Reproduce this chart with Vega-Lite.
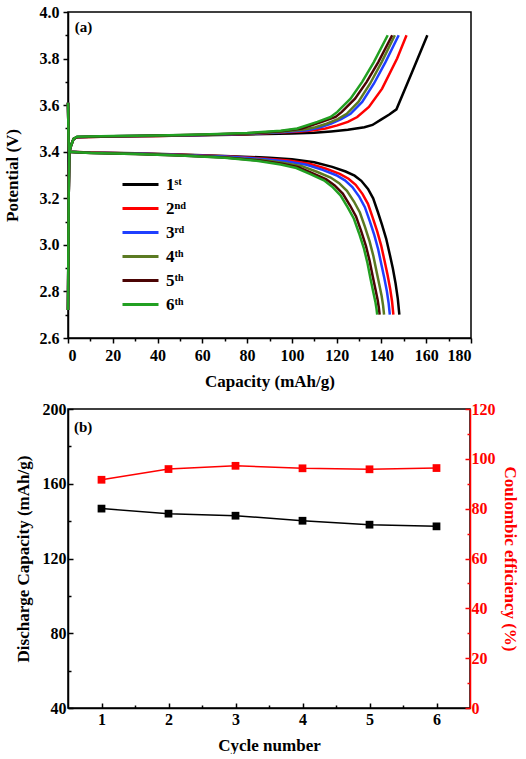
{
"$schema":"https://vega.github.io/schema/vega-lite/v6.json",
"padding":{"left":2,"top":3,"right":0,"bottom":0},
"spacing":10,
"config":{
 "font":"Liberation Serif",
 "view":{"stroke":"black","strokeWidth":1.5},
 "axis":{"grid":false,"domainColor":"black","domainWidth":1.5,"tickColor":"black","tickWidth":1.5,"labelFont":"Liberation Serif","labelFontWeight":"bold","labelFontSize":16,"labelColor":"black","titleFont":"Liberation Serif","titleFontWeight":"bold","titleFontSize":17,"titleColor":"black"}
},
"datasets":{
"cyc":[
{"n":1,"cap":146.7,"ce":91.6},{"n":2,"cap":144.0,"ce":95.9},{"n":3,"cap":142.9,"ce":97.2},{"n":4,"cap":140.2,"ce":96.2},{"n":5,"cap":138.1,"ce":95.8},{"n":6,"cap":137.2,"ce":96.3}
],
"curves":[
{"c":"1\u02e2\u1d57","s":"c","x":0,"y":2.72},{"c":"1\u02e2\u1d57","s":"c","x":0.3,"y":3.2},{"c":"1\u02e2\u1d57","s":"c","x":0.6,"y":3.4},{"c":"1\u02e2\u1d57","s":"c","x":1.5,"y":3.43},{"c":"1\u02e2\u1d57","s":"c","x":2.5,"y":3.455},{"c":"1\u02e2\u1d57","s":"c","x":4,"y":3.462},{"c":"1\u02e2\u1d57","s":"c","x":20,"y":3.465},{"c":"1\u02e2\u1d57","s":"c","x":40,"y":3.468},{"c":"1\u02e2\u1d57","s":"c","x":60,"y":3.471},{"c":"1\u02e2\u1d57","s":"c","x":80,"y":3.474},{"c":"1\u02e2\u1d57","s":"c","x":100,"y":3.478},{"c":"1\u02e2\u1d57","s":"c","x":110,"y":3.481},{"c":"1\u02e2\u1d57","s":"c","x":117.5,"y":3.487},{"c":"1\u02e2\u1d57","s":"c","x":125,"y":3.494},{"c":"1\u02e2\u1d57","s":"c","x":132.4,"y":3.505},{"c":"1\u02e2\u1d57","s":"c","x":136,"y":3.515},{"c":"1\u02e2\u1d57","s":"c","x":139.8,"y":3.538},{"c":"1\u02e2\u1d57","s":"c","x":143.5,"y":3.56},{"c":"1\u02e2\u1d57","s":"c","x":146.7,"y":3.582},{"c":"1\u02e2\u1d57","s":"c","x":153.7,"y":3.742},{"c":"1\u02e2\u1d57","s":"c","x":160.5,"y":3.9},
{"c":"1\u02e2\u1d57","s":"d","x":0,"y":3.61},{"c":"1\u02e2\u1d57","s":"d","x":0.25,"y":3.45},{"c":"1\u02e2\u1d57","s":"d","x":0.5,"y":3.4},{"c":"1\u02e2\u1d57","s":"d","x":10,"y":3.397},{"c":"1\u02e2\u1d57","s":"d","x":30,"y":3.393},{"c":"1\u02e2\u1d57","s":"d","x":50,"y":3.388},{"c":"1\u02e2\u1d57","s":"d","x":70,"y":3.382},{"c":"1\u02e2\u1d57","s":"d","x":90,"y":3.374},{"c":"1\u02e2\u1d57","s":"d","x":100,"y":3.368},{"c":"1\u02e2\u1d57","s":"d","x":110,"y":3.355},{"c":"1\u02e2\u1d57","s":"d","x":118,"y":3.335},{"c":"1\u02e2\u1d57","s":"d","x":124,"y":3.315},{"c":"1\u02e2\u1d57","s":"d","x":128,"y":3.297},{"c":"1\u02e2\u1d57","s":"d","x":131,"y":3.275},{"c":"1\u02e2\u1d57","s":"d","x":134,"y":3.24},{"c":"1\u02e2\u1d57","s":"d","x":136.3,"y":3.2},{"c":"1\u02e2\u1d57","s":"d","x":138.4,"y":3.141},{"c":"1\u02e2\u1d57","s":"d","x":140.3,"y":3.085},{"c":"1\u02e2\u1d57","s":"d","x":142.1,"y":3.027},{"c":"1\u02e2\u1d57","s":"d","x":143.7,"y":2.96},{"c":"1\u02e2\u1d57","s":"d","x":145.1,"y":2.898},{"c":"1\u02e2\u1d57","s":"d","x":146.3,"y":2.835},{"c":"1\u02e2\u1d57","s":"d","x":147.3,"y":2.769},{"c":"1\u02e2\u1d57","s":"d","x":148,"y":2.7},
{"c":"2\u207f\u1d48","s":"c","x":0,"y":2.72},{"c":"2\u207f\u1d48","s":"c","x":0.3,"y":3.2},{"c":"2\u207f\u1d48","s":"c","x":0.6,"y":3.4},{"c":"2\u207f\u1d48","s":"c","x":1.5,"y":3.43},{"c":"2\u207f\u1d48","s":"c","x":2.5,"y":3.455},{"c":"2\u207f\u1d48","s":"c","x":4,"y":3.462},{"c":"2\u207f\u1d48","s":"c","x":20,"y":3.465},{"c":"2\u207f\u1d48","s":"c","x":40,"y":3.468},{"c":"2\u207f\u1d48","s":"c","x":60,"y":3.472},{"c":"2\u207f\u1d48","s":"c","x":80,"y":3.476},{"c":"2\u207f\u1d48","s":"c","x":95,"y":3.482},{"c":"2\u207f\u1d48","s":"c","x":104,"y":3.487},{"c":"2\u207f\u1d48","s":"c","x":109.9,"y":3.492},{"c":"2\u207f\u1d48","s":"c","x":115,"y":3.5},{"c":"2\u207f\u1d48","s":"c","x":120.3,"y":3.513},{"c":"2\u207f\u1d48","s":"c","x":125,"y":3.528},{"c":"2\u207f\u1d48","s":"c","x":129.2,"y":3.549},{"c":"2\u207f\u1d48","s":"c","x":134.4,"y":3.592},{"c":"2\u207f\u1d48","s":"c","x":140.3,"y":3.671},{"c":"2\u207f\u1d48","s":"c","x":147,"y":3.8},{"c":"2\u207f\u1d48","s":"c","x":151.2,"y":3.9},
{"c":"2\u207f\u1d48","s":"d","x":0,"y":3.61},{"c":"2\u207f\u1d48","s":"d","x":0.25,"y":3.45},{"c":"2\u207f\u1d48","s":"d","x":0.5,"y":3.4},{"c":"2\u207f\u1d48","s":"d","x":10,"y":3.3965},{"c":"2\u207f\u1d48","s":"d","x":30,"y":3.392},{"c":"2\u207f\u1d48","s":"d","x":50,"y":3.387},{"c":"2\u207f\u1d48","s":"d","x":70,"y":3.38},{"c":"2\u207f\u1d48","s":"d","x":88.65,"y":3.37},{"c":"2\u207f\u1d48","s":"d","x":98.65,"y":3.362},{"c":"2\u207f\u1d48","s":"d","x":107.84,"y":3.348},{"c":"2\u207f\u1d48","s":"d","x":115.3,"y":3.327},{"c":"2\u207f\u1d48","s":"d","x":121.38,"y":3.305},{"c":"2\u207f\u1d48","s":"d","x":125.3,"y":3.284},{"c":"2\u207f\u1d48","s":"d","x":128.49,"y":3.258},{"c":"2\u207f\u1d48","s":"d","x":131.57,"y":3.218},{"c":"2\u207f\u1d48","s":"d","x":133.98,"y":3.176},{"c":"2\u207f\u1d48","s":"d","x":136.13,"y":3.116},{"c":"2\u207f\u1d48","s":"d","x":138.11,"y":3.058},{"c":"2\u207f\u1d48","s":"d","x":139.86,"y":2.998},{"c":"2\u207f\u1d48","s":"d","x":141.38,"y":2.932},{"c":"2\u207f\u1d48","s":"d","x":142.72,"y":2.872},{"c":"2\u207f\u1d48","s":"d","x":143.87,"y":2.813},{"c":"2\u207f\u1d48","s":"d","x":144.74,"y":2.757},{"c":"2\u207f\u1d48","s":"d","x":145.33,"y":2.7},
{"c":"3\u02b3\u1d48","s":"c","x":0,"y":2.72},{"c":"3\u02b3\u1d48","s":"c","x":0.3,"y":3.2},{"c":"3\u02b3\u1d48","s":"c","x":0.6,"y":3.4},{"c":"3\u02b3\u1d48","s":"c","x":1.5,"y":3.43},{"c":"3\u02b3\u1d48","s":"c","x":2.5,"y":3.455},{"c":"3\u02b3\u1d48","s":"c","x":4,"y":3.463},{"c":"3\u02b3\u1d48","s":"c","x":20,"y":3.466},{"c":"3\u02b3\u1d48","s":"c","x":40,"y":3.469},{"c":"3\u02b3\u1d48","s":"c","x":60,"y":3.472},{"c":"3\u02b3\u1d48","s":"c","x":80,"y":3.477},{"c":"3\u02b3\u1d48","s":"c","x":95,"y":3.484},{"c":"3\u02b3\u1d48","s":"c","x":106.9,"y":3.492},{"c":"3\u02b3\u1d48","s":"c","x":112,"y":3.503},{"c":"3\u02b3\u1d48","s":"c","x":117.3,"y":3.52},{"c":"3\u02b3\u1d48","s":"c","x":122,"y":3.54},{"c":"3\u02b3\u1d48","s":"c","x":126.2,"y":3.563},{"c":"3\u02b3\u1d48","s":"c","x":131.4,"y":3.614},{"c":"3\u02b3\u1d48","s":"c","x":136.6,"y":3.692},{"c":"3\u02b3\u1d48","s":"c","x":141.8,"y":3.785},{"c":"3\u02b3\u1d48","s":"c","x":147.7,"y":3.9},
{"c":"3\u02b3\u1d48","s":"d","x":0,"y":3.61},{"c":"3\u02b3\u1d48","s":"d","x":0.25,"y":3.45},{"c":"3\u02b3\u1d48","s":"d","x":0.5,"y":3.4},{"c":"3\u02b3\u1d48","s":"d","x":10,"y":3.396},{"c":"3\u02b3\u1d48","s":"d","x":30,"y":3.392},{"c":"3\u02b3\u1d48","s":"d","x":50,"y":3.386},{"c":"3\u02b3\u1d48","s":"d","x":70,"y":3.379},{"c":"3\u02b3\u1d48","s":"d","x":87.85,"y":3.368},{"c":"3\u02b3\u1d48","s":"d","x":97.85,"y":3.358},{"c":"3\u02b3\u1d48","s":"d","x":106.56,"y":3.344},{"c":"3\u02b3\u1d48","s":"d","x":113.7,"y":3.322},{"c":"3\u02b3\u1d48","s":"d","x":119.83,"y":3.299},{"c":"3\u02b3\u1d48","s":"d","x":123.7,"y":3.277},{"c":"3\u02b3\u1d48","s":"d","x":127,"y":3.248},{"c":"3\u02b3\u1d48","s":"d","x":130.13,"y":3.206},{"c":"3\u02b3\u1d48","s":"d","x":132.6,"y":3.162},{"c":"3\u02b3\u1d48","s":"d","x":134.79,"y":3.102},{"c":"3\u02b3\u1d48","s":"d","x":136.82,"y":3.042},{"c":"3\u02b3\u1d48","s":"d","x":138.53,"y":2.981},{"c":"3\u02b3\u1d48","s":"d","x":140,"y":2.915},{"c":"3\u02b3\u1d48","s":"d","x":141.32,"y":2.856},{"c":"3\u02b3\u1d48","s":"d","x":142.43,"y":2.801},{"c":"3\u02b3\u1d48","s":"d","x":143.21,"y":2.75},{"c":"3\u02b3\u1d48","s":"d","x":143.74,"y":2.7},
{"c":"4\u1d57\u02b0","s":"c","x":0,"y":2.72},{"c":"4\u1d57\u02b0","s":"c","x":0.3,"y":3.2},{"c":"4\u1d57\u02b0","s":"c","x":0.6,"y":3.4},{"c":"4\u1d57\u02b0","s":"c","x":1.5,"y":3.43},{"c":"4\u1d57\u02b0","s":"c","x":2.5,"y":3.455},{"c":"4\u1d57\u02b0","s":"c","x":4,"y":3.463},{"c":"4\u1d57\u02b0","s":"c","x":20,"y":3.466},{"c":"4\u1d57\u02b0","s":"c","x":40,"y":3.469},{"c":"4\u1d57\u02b0","s":"c","x":60,"y":3.473},{"c":"4\u1d57\u02b0","s":"c","x":80,"y":3.478},{"c":"4\u1d57\u02b0","s":"c","x":95,"y":3.486},{"c":"4\u1d57\u02b0","s":"c","x":105.5,"y":3.495},{"c":"4\u1d57\u02b0","s":"c","x":110.5,"y":3.505},{"c":"4\u1d57\u02b0","s":"c","x":115.5,"y":3.52},{"c":"4\u1d57\u02b0","s":"c","x":120.5,"y":3.54},{"c":"4\u1d57\u02b0","s":"c","x":124.5,"y":3.563},{"c":"4\u1d57\u02b0","s":"c","x":129.7,"y":3.614},{"c":"4\u1d57\u02b0","s":"c","x":134.9,"y":3.692},{"c":"4\u1d57\u02b0","s":"c","x":140.1,"y":3.785},{"c":"4\u1d57\u02b0","s":"c","x":146,"y":3.9},
{"c":"4\u1d57\u02b0","s":"d","x":0,"y":3.61},{"c":"4\u1d57\u02b0","s":"d","x":0.25,"y":3.45},{"c":"4\u1d57\u02b0","s":"d","x":0.5,"y":3.4},{"c":"4\u1d57\u02b0","s":"d","x":10,"y":3.396},{"c":"4\u1d57\u02b0","s":"d","x":30,"y":3.391},{"c":"4\u1d57\u02b0","s":"d","x":50,"y":3.385},{"c":"4\u1d57\u02b0","s":"d","x":70,"y":3.376},{"c":"4\u1d57\u02b0","s":"d","x":86.55,"y":3.364},{"c":"4\u1d57\u02b0","s":"d","x":96.55,"y":3.352},{"c":"4\u1d57\u02b0","s":"d","x":104.48,"y":3.338},{"c":"4\u1d57\u02b0","s":"d","x":111.1,"y":3.314},{"c":"4\u1d57\u02b0","s":"d","x":117.31,"y":3.289},{"c":"4\u1d57\u02b0","s":"d","x":121.1,"y":3.265},{"c":"4\u1d57\u02b0","s":"d","x":124.58,"y":3.232},{"c":"4\u1d57\u02b0","s":"d","x":127.79,"y":3.185},{"c":"4\u1d57\u02b0","s":"d","x":130.37,"y":3.139},{"c":"4\u1d57\u02b0","s":"d","x":132.6,"y":3.078},{"c":"4\u1d57\u02b0","s":"d","x":134.71,"y":3.015},{"c":"4\u1d57\u02b0","s":"d","x":136.37,"y":2.953},{"c":"4\u1d57\u02b0","s":"d","x":137.77,"y":2.888},{"c":"4\u1d57\u02b0","s":"d","x":139.03,"y":2.83},{"c":"4\u1d57\u02b0","s":"d","x":140.09,"y":2.78},{"c":"4\u1d57\u02b0","s":"d","x":140.74,"y":2.739},{"c":"4\u1d57\u02b0","s":"d","x":141.17,"y":2.7},
{"c":"5\u1d57\u02b0","s":"c","x":0,"y":2.72},{"c":"5\u1d57\u02b0","s":"c","x":0.3,"y":3.2},{"c":"5\u1d57\u02b0","s":"c","x":0.6,"y":3.4},{"c":"5\u1d57\u02b0","s":"c","x":1.5,"y":3.43},{"c":"5\u1d57\u02b0","s":"c","x":2.5,"y":3.455},{"c":"5\u1d57\u02b0","s":"c","x":4,"y":3.463},{"c":"5\u1d57\u02b0","s":"c","x":20,"y":3.466},{"c":"5\u1d57\u02b0","s":"c","x":40,"y":3.47},{"c":"5\u1d57\u02b0","s":"c","x":60,"y":3.473},{"c":"5\u1d57\u02b0","s":"c","x":80,"y":3.479},{"c":"5\u1d57\u02b0","s":"c","x":95,"y":3.488},{"c":"5\u1d57\u02b0","s":"c","x":104.4,"y":3.5},{"c":"5\u1d57\u02b0","s":"c","x":113.4,"y":3.528},{"c":"5\u1d57\u02b0","s":"c","x":119.5,"y":3.549},{"c":"5\u1d57\u02b0","s":"c","x":122.3,"y":3.571},{"c":"5\u1d57\u02b0","s":"c","x":128.2,"y":3.628},{"c":"5\u1d57\u02b0","s":"c","x":133.4,"y":3.7},{"c":"5\u1d57\u02b0","s":"c","x":138.6,"y":3.785},{"c":"5\u1d57\u02b0","s":"c","x":144.8,"y":3.9},
{"c":"5\u1d57\u02b0","s":"d","x":0,"y":3.61},{"c":"5\u1d57\u02b0","s":"d","x":0.25,"y":3.45},{"c":"5\u1d57\u02b0","s":"d","x":0.5,"y":3.4},{"c":"5\u1d57\u02b0","s":"d","x":10,"y":3.395},{"c":"5\u1d57\u02b0","s":"d","x":30,"y":3.39},{"c":"5\u1d57\u02b0","s":"d","x":50,"y":3.384},{"c":"5\u1d57\u02b0","s":"d","x":70,"y":3.375},{"c":"5\u1d57\u02b0","s":"d","x":85.55,"y":3.362},{"c":"5\u1d57\u02b0","s":"d","x":95.55,"y":3.348},{"c":"5\u1d57\u02b0","s":"d","x":102.88,"y":3.333},{"c":"5\u1d57\u02b0","s":"d","x":109.1,"y":3.308},{"c":"5\u1d57\u02b0","s":"d","x":115.37,"y":3.281},{"c":"5\u1d57\u02b0","s":"d","x":119.1,"y":3.255},{"c":"5\u1d57\u02b0","s":"d","x":122.72,"y":3.22},{"c":"5\u1d57\u02b0","s":"d","x":125.99,"y":3.169},{"c":"5\u1d57\u02b0","s":"d","x":128.65,"y":3.122},{"c":"5\u1d57\u02b0","s":"d","x":130.92,"y":3.06},{"c":"5\u1d57\u02b0","s":"d","x":133.09,"y":2.995},{"c":"5\u1d57\u02b0","s":"d","x":134.71,"y":2.932},{"c":"5\u1d57\u02b0","s":"d","x":136.05,"y":2.867},{"c":"5\u1d57\u02b0","s":"d","x":137.27,"y":2.811},{"c":"5\u1d57\u02b0","s":"d","x":138.29,"y":2.764},{"c":"5\u1d57\u02b0","s":"d","x":138.84,"y":2.73},{"c":"5\u1d57\u02b0","s":"d","x":139.19,"y":2.7},
{"c":"6\u1d57\u02b0","s":"c","x":0,"y":2.72},{"c":"6\u1d57\u02b0","s":"c","x":0.3,"y":3.2},{"c":"6\u1d57\u02b0","s":"c","x":0.6,"y":3.4},{"c":"6\u1d57\u02b0","s":"c","x":1.5,"y":3.43},{"c":"6\u1d57\u02b0","s":"c","x":2.5,"y":3.455},{"c":"6\u1d57\u02b0","s":"c","x":4,"y":3.464},{"c":"6\u1d57\u02b0","s":"c","x":20,"y":3.467},{"c":"6\u1d57\u02b0","s":"c","x":40,"y":3.47},{"c":"6\u1d57\u02b0","s":"c","x":60,"y":3.474},{"c":"6\u1d57\u02b0","s":"c","x":80,"y":3.48},{"c":"6\u1d57\u02b0","s":"c","x":95,"y":3.49},{"c":"6\u1d57\u02b0","s":"c","x":102.4,"y":3.5},{"c":"6\u1d57\u02b0","s":"c","x":111.4,"y":3.528},{"c":"6\u1d57\u02b0","s":"c","x":117.3,"y":3.549},{"c":"6\u1d57\u02b0","s":"c","x":120.3,"y":3.571},{"c":"6\u1d57\u02b0","s":"c","x":126.2,"y":3.628},{"c":"6\u1d57\u02b0","s":"c","x":131.4,"y":3.7},{"c":"6\u1d57\u02b0","s":"c","x":136.6,"y":3.785},{"c":"6\u1d57\u02b0","s":"c","x":142.8,"y":3.9},
{"c":"6\u1d57\u02b0","s":"d","x":0,"y":3.61},{"c":"6\u1d57\u02b0","s":"d","x":0.25,"y":3.45},{"c":"6\u1d57\u02b0","s":"d","x":0.5,"y":3.4},{"c":"6\u1d57\u02b0","s":"d","x":10,"y":3.395},{"c":"6\u1d57\u02b0","s":"d","x":30,"y":3.39},{"c":"6\u1d57\u02b0","s":"d","x":50,"y":3.384},{"c":"6\u1d57\u02b0","s":"d","x":70,"y":3.374},{"c":"6\u1d57\u02b0","s":"d","x":85,"y":3.36},{"c":"6\u1d57\u02b0","s":"d","x":95,"y":3.345},{"c":"6\u1d57\u02b0","s":"d","x":102,"y":3.33},{"c":"6\u1d57\u02b0","s":"d","x":108,"y":3.305},{"c":"6\u1d57\u02b0","s":"d","x":114.3,"y":3.277},{"c":"6\u1d57\u02b0","s":"d","x":118,"y":3.25},{"c":"6\u1d57\u02b0","s":"d","x":121.7,"y":3.213},{"c":"6\u1d57\u02b0","s":"d","x":125,"y":3.16},{"c":"6\u1d57\u02b0","s":"d","x":127.7,"y":3.112},{"c":"6\u1d57\u02b0","s":"d","x":130,"y":3.05},{"c":"6\u1d57\u02b0","s":"d","x":132.2,"y":2.984},{"c":"6\u1d57\u02b0","s":"d","x":133.8,"y":2.92},{"c":"6\u1d57\u02b0","s":"d","x":135.1,"y":2.855},{"c":"6\u1d57\u02b0","s":"d","x":136.3,"y":2.8},{"c":"6\u1d57\u02b0","s":"d","x":137.3,"y":2.755},{"c":"6\u1d57\u02b0","s":"d","x":137.8,"y":2.725},{"c":"6\u1d57\u02b0","s":"d","x":138.1,"y":2.7}
]
},
"vconcat":[
{
 "width":403,"height":326,
 "layer":[
  {"data":{"name":"curves"},
   "mark":{"type":"line","strokeWidth":2.5},
   "encoding":{
    "x":{"field":"x","type":"quantitative","scale":{"domain":[0,180],"nice":false},"axis":{"values":[0,20,40,60,80,100,120,140,160,180],"tickSize":5,"labelPadding":4,"title":"Capacity (mAh/g)","titlePadding":10}},
    "y":{"field":"y","type":"quantitative","scale":{"domain":[2.6,4.0],"nice":false,"zero":false},"axis":{"values":[2.6,2.8,3.0,3.2,3.4,3.6,3.8,4.0],"format":".1f","tickSize":5,"labelPadding":4,"title":"Potential (V)","titlePadding":18}},
    "color":{"field":"c","type":"nominal","scale":{"domain":["1\u02e2\u1d57","2\u207f\u1d48","3\u02b3\u1d48","4\u1d57\u02b0","5\u1d57\u02b0","6\u1d57\u02b0"],"range":["#000000","#ff0000","#1f3fff","#5b7a22","#4b0404","#22a022"]},
     "legend":{"title":null,"orient":"none","legendX":64,"legendY":164,"padding":0,"symbolType":"M-3,0H3","symbolSize":144,"symbolStrokeWidth":3,"labelOffset":17,"labelFont":"Liberation Serif","labelFontWeight":"bold","labelFontSize":17,"labelColor":"black","rowPadding":6}},
    "detail":{"field":"s"}
   }},
  {"data":{"values":[{"x":3,"y":3.936,"t":"(a)"}]},
   "mark":{"type":"text","align":"left","baseline":"middle","fontSize":15,"font":"Liberation Serif","fontWeight":"bold","color":"black"},
   "encoding":{
    "x":{"field":"x","type":"quantitative","axis":{"orient":"bottom","values":[10,30,50,70,90,110,130,150,170],"tickSize":3,"labels":false,"domain":false,"title":null}},
    "y":{"field":"y","type":"quantitative","axis":{"orient":"left","values":[2.7,2.9,3.1,3.3,3.5,3.7,3.9],"tickSize":3,"labels":false,"domain":false,"title":null}},
    "text":{"field":"t"}
   }}
 ],
 "resolve":{"axis":{"x":"independent","y":"independent"}}
},
{
 "width":402,"height":299,
 "layer":[
  {"data":{"name":"cyc"},
   "mark":{"type":"line","color":"black","strokeWidth":1.5,"point":{"shape":"square","size":60,"filled":true,"color":"black","opacity":1}},
   "encoding":{
    "x":{"field":"n","type":"quantitative","scale":{"domain":[0.5,6.5],"nice":false},"axis":{"values":[1,2,3,4,5,6],"format":"d","tickSize":-5,"labelPadding":8,"title":"Cycle number","titlePadding":10}},
    "y":{"field":"cap","type":"quantitative","scale":{"domain":[40,200],"nice":false,"zero":false},"axis":{"orient":"left","values":[40,80,120,160,200],"tickSize":-5,"labelPadding":7,"title":"Discharge Capacity (mAh/g)","titlePadding":10}}
   }},
  {"data":{"name":"cyc"},
   "mark":{"type":"line","color":"#ff0000","strokeWidth":1.5,"point":{"shape":"square","size":60,"filled":true,"color":"#ff0000","opacity":1}},
   "encoding":{
    "x":{"field":"n","type":"quantitative","axis":null},
    "y":{"field":"ce","type":"quantitative","scale":{"domain":[0,120],"nice":false},"axis":{"orient":"right","values":[0,20,40,60,80,100,120],"tickSize":-5,"labelPadding":6,"domainColor":"#ff0000","tickColor":"#ff0000","labelColor":"#ff0000","titleColor":"#ff0000","title":"Coulombic efficiency (%)","titlePadding":5}}
   }},
  {"data":{"values":[{"x":0.59,"y":190.5,"t":"(b)"}]},
   "mark":{"type":"text","align":"left","baseline":"middle","fontSize":15,"font":"Liberation Serif","fontWeight":"bold","color":"black"},
   "encoding":{
    "x":{"field":"x","type":"quantitative","axis":{"orient":"bottom","values":[1.5,2.5,3.5,4.5,5.5],"tickSize":-3,"labels":false,"domain":false,"title":null}},
    "y":{"field":"y","type":"quantitative","scale":{"domain":[40,200],"nice":false,"zero":false},"axis":{"orient":"left","values":[60,100,140,180],"tickSize":-3,"labels":false,"domain":false,"title":null}},
    "text":{"field":"t"}
   }},
  {"data":{"values":[{"x":1,"y":10}]},
   "mark":{"type":"point","opacity":0},
   "encoding":{
    "x":{"field":"x","type":"quantitative","axis":null},
    "y":{"field":"y","type":"quantitative","scale":{"domain":[0,120],"nice":false},"axis":{"orient":"right","values":[10,30,50,70,90,110],"tickSize":-3,"tickColor":"#ff0000","labels":false,"domain":false,"title":null}}
   }}
 ],
 "resolve":{"scale":{"y":"independent"},"axis":{"x":"independent","y":"independent"}}
}
]
}
